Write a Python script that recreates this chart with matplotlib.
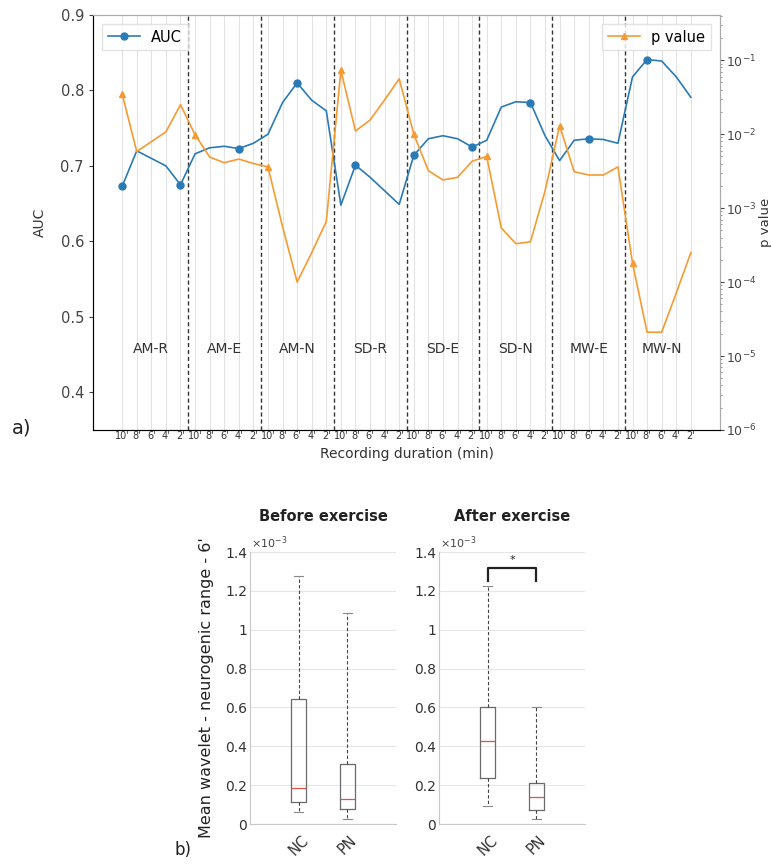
import numpy as np
import matplotlib
matplotlib.use("Agg")
import matplotlib.pyplot as plt

# ---------------- data ----------------
groups = ["AM-R", "AM-E", "AM-N", "SD-R", "SD-E", "SD-N", "MW-E", "MW-N"]
durations = ["10'", "8'", "6'", "4'", "2'"]

auc = [0.673, 0.720, 0.710, 0.700, 0.675,
       0.716, 0.724, 0.726, 0.723, 0.730,
       0.742, 0.784, 0.810, 0.787, 0.773,
       0.648, 0.701, 0.685, 0.667, 0.649,
       0.714, 0.736, 0.740, 0.736, 0.725,
       0.734, 0.778, 0.785, 0.784, 0.740,
       0.707, 0.734, 0.736, 0.735, 0.730,
       0.818, 0.841, 0.839, 0.818, 0.791]

pval = [3.5e-2, 5.8e-3, 7.9e-3, 1.07e-2, 2.5e-2,
        9.8e-3, 4.9e-3, 4.1e-3, 4.6e-3, 4.0e-3,
        3.6e-3, 5.6e-4, 1.0e-4, 2.5e-4, 6.6e-4,
        7.3e-2, 1.1e-2, 1.55e-2, 2.9e-2, 5.6e-2,
        1.0e-2, 3.2e-3, 2.4e-3, 2.6e-3, 4.3e-3,
        5.0e-3, 5.4e-4, 3.3e-4, 3.5e-4, 1.7e-3,
        1.3e-2, 3.1e-3, 2.8e-3, 2.8e-3, 3.6e-3,
        1.8e-4, 2.1e-5, 2.1e-5, 7.1e-5, 2.5e-4]

box_groups = ["NC", "PN"]
# values in units of 1e-3: whislo, q1, med, q3, whishi
before_stats = {"NC": [0.060, 0.112, 0.184, 0.642, 1.276],
                "PN": [0.026, 0.076, 0.127, 0.309, 1.084]}
after_stats = {"NC": [0.091, 0.238, 0.425, 0.604, 1.225],
               "PN": [0.026, 0.072, 0.141, 0.210, 0.604]}

W, H = 772, 865
fig = plt.figure(figsize=(W / 100, H / 100), dpi=100)

def fr(l, t, r, b):
    return [l / W, 1 - b / H, (r - l) / W, (b - t) / H]

# ---------------- panel a ----------------
blue = "#2a7ab5"
orange = "#f59b32"
ax = fig.add_axes(fr(93, 15, 720, 430))
n = len(auc)
x = np.arange(n)
ax.set_xlim(-2, 41)
ax.set_ylim(0.35, 0.9)
ax.set_xticks(x)
ax.set_xticklabels(durations * len(groups), fontsize=7, color="#333333")
ax.tick_params(axis="x", length=0, pad=1)
ax.set_yticks([0.4, 0.5, 0.6, 0.7, 0.8, 0.9])
ax.tick_params(axis="y", labelsize=10.5, length=3, colors="#444444")
ax.grid(axis="x", color="#e3e3e3", lw=0.8)
ax.set_axisbelow(True)
for g in range(1, len(groups)):
    ax.axvline(g * 5 - 0.5, color="#333333", ls="--", lw=1.0, dashes=(3, 2))
for g, name in enumerate(groups):
    ax.text(g * 5 + 2, 0.458, name, ha="center", va="center", fontsize=10, color="#333333")
l1, = ax.plot(x, auc, color=blue, marker="o", markevery=4, ms=5, lw=1.2, label="AUC")
ax.set_ylabel("AUC", fontsize=10, labelpad=10, color="#333333")
ax.set_xlabel("Recording duration (min)", fontsize=10, labelpad=4, color="#333333")
for s in ["top", "right"]:
    ax.spines[s].set_color("#aaaaaa")
for s in ["left", "bottom"]:
    ax.spines[s].set_color("#555555")

ax2 = ax.twinx()
ax2.set_yscale("log")
ax2.set_ylim(1e-6, 10 ** -0.39)
l2, = ax2.plot(x, pval, color=orange, marker="^", markevery=5, ms=5, lw=1.2, label="p value")
ax2.set_yticks([1e-6, 1e-5, 1e-4, 1e-3, 1e-2, 1e-1])
ax2.tick_params(axis="y", which="major", labelsize=9, pad=1.5, length=3, colors="#444444")
ax2.tick_params(axis="y", which="minor", length=1.5, colors="#888888")
ax2.set_ylabel("p value", fontsize=9.5, color="#333333", rotation=90, va="center", ha="center")
ax2.yaxis.set_label_coords(1.072, 0.5)
ax2.spines["right"].set_color("#aaaaaa")
ax2.spines["top"].set_color("#aaaaaa")

leg1 = ax.legend(handles=[l1], loc="upper left", fontsize=10.5, fancybox=False,
                 edgecolor="#dddddd", borderaxespad=0.6, handlelength=2.2)
leg2 = ax2.legend(handles=[l2], loc="upper right", fontsize=10.5, fancybox=False,
                  edgecolor="#dddddd", borderaxespad=0.6, handlelength=2.2)

fig.text(22 / W, 1 - 428 / H, "a)", fontsize=14, ha="center", va="center", color="#222222")

# ---------------- panel b ----------------
def box_panel(rect, stats, title, bracket=False):
    bx = fig.add_axes(rect)
    bstats = []
    for name in box_groups:
        lo, q1, med, q3, hi = stats[name]
        bstats.append(dict(label=name, whislo=lo, q1=q1, med=med, q3=q3, whishi=hi, fliers=[]))
    bx.bxp(bstats, positions=[1, 2], widths=0.31, capwidths=0.18, showfliers=False,
           boxprops=dict(color="#6a6a6a", lw=0.9),
           medianprops=dict(color="#d9534f", lw=0.9),
           whiskerprops=dict(color="#444444", lw=0.8, ls=(0, (3, 2))),
           capprops=dict(color="#888888", lw=0.8))
    bx.set_xlim(0, 3)
    bx.set_ylim(0, 1.4)
    yt = [0, 0.2, 0.4, 0.6, 0.8, 1.0, 1.2, 1.4]
    bx.set_yticks(yt)
    bx.set_yticklabels(["0", "0.2", "0.4", "0.6", "0.8", "1", "1.2", "1.4"])
    bx.tick_params(axis="y", labelsize=10, length=0, pad=2, colors="#333333")
    bx.set_xticks([1, 2])
    bx.set_xticklabels(box_groups, rotation=45, ha="center", va="top", fontsize=10.5,
                       color="#333333")
    bx.tick_params(axis="x", length=0, pad=6)
    bx.grid(axis="y", color="#e6e6e6", lw=0.8)
    bx.set_axisbelow(True)
    for s in ["top", "right"]:
        bx.spines[s].set_visible(False)
    for s in ["left", "bottom"]:
        bx.spines[s].set_color("#c8c8c8")
    bx.set_title(title, fontsize=10.5, fontweight="bold", pad=22, color="#222222")
    bx.text(0.01, 1.035, r"$\times10^{-3}$", transform=bx.transAxes, fontsize=8,
            ha="left", va="center", color="#444444")
    if bracket:
        bx.plot([1, 1, 2, 2], [1.25, 1.316, 1.316, 1.25], color="#222222", lw=1.6)
        bx.text(1.5, 1.335, "*", ha="center", va="bottom", fontsize=8, color="#222222")
    return bx

b1 = box_panel(fr(250, 552, 396, 824), before_stats, "Before exercise")
b1.set_ylabel("Mean wavelet - neurogenic range - 6'", fontsize=11.5, labelpad=8, color="#222222")
b2 = box_panel(fr(439, 552, 585, 824), after_stats, "After exercise", bracket=True)

fig.text(183 / W, 1 - 850 / H, "b)", fontsize=12, ha="center", va="center", color="#222222")

fig.savefig("out.png", dpi=100)
